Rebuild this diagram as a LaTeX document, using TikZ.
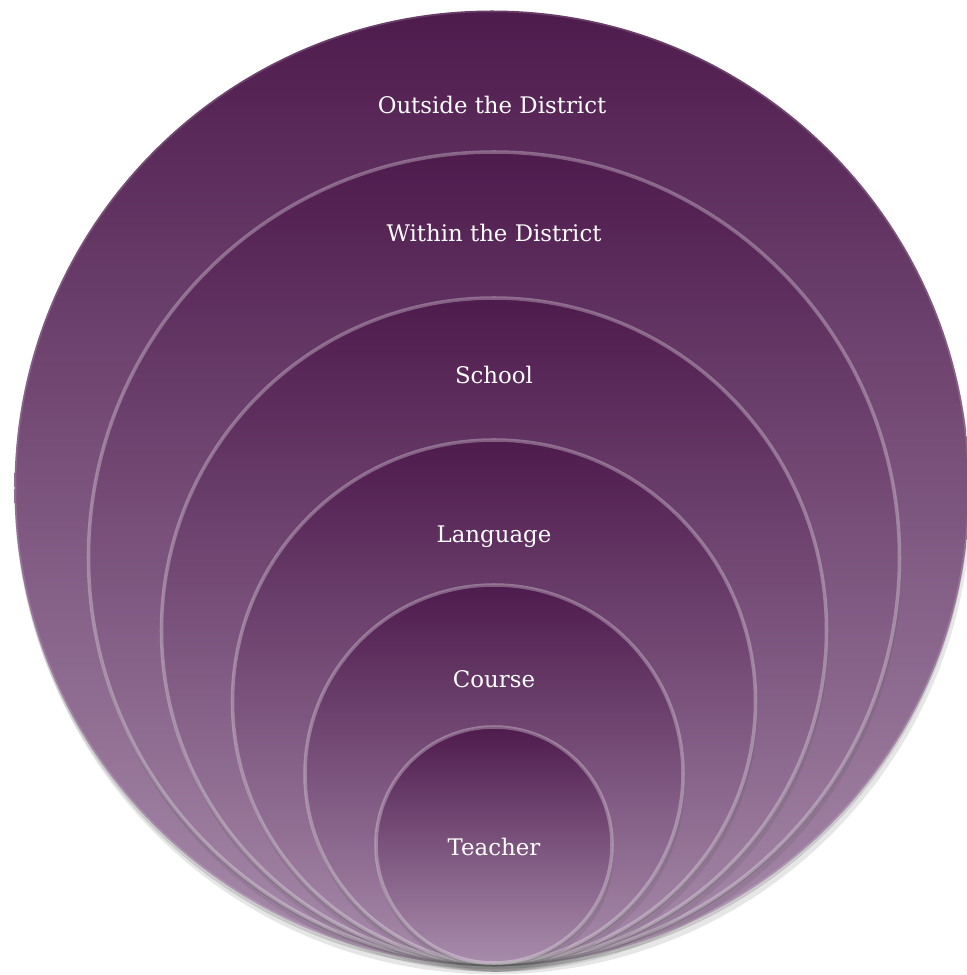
\documentclass[tikz,border=0pt]{standalone}
\usepackage{xcolor}
\usepackage{fontspec}
\setmainfont{DejaVu Serif}
\usepackage{tikz}
\usetikzlibrary{shapes,positioning,shadows}
\definecolor{plumtop}{HTML}{4E1B4D}
\definecolor{plumbottom}{HTML}{A88CAC}
\tikzstyle{ring} = [circle, inner sep=0pt, top color=plumtop, bottom color=plumbottom, draw=white, draw opacity=0.3, line width=2pt, drop shadow={shadow xshift=0pt, shadow yshift=-2pt, opacity=0.22, fill=black!70}, drop shadow={shadow xshift=1pt, shadow yshift=-5pt, opacity=0.14, fill=black!70}]
\tikzstyle{ringlabel} = [inner sep=0pt, text=white, font=\fontsize{13}{15}\selectfont]

\begin{document}
\begin{tikzpicture}
					\useasboundingbox (0,0) rectangle (19.34,19.5);
					% rings, outermost first
					\node (outside) [ring, draw opacity=0.15, minimum size=19.1cm] at (9.84,9.74) {};
					\node (within) [ring, minimum size=16.22cm] at (9.88,8.35) {};
					\node (school) [ring, minimum size=13.3cm] at (9.88,6.89) {};
					\node (language) [ring, minimum size=10.46cm] at (9.88,5.47) {};
					\node (course) [ring, minimum size=7.56cm] at (9.88,4.02) {};
					\node (teacher) [ring, minimum size=4.72cm] at (9.88,2.60) {};
					% labels
					\node (outside-l) [ringlabel, below=1.74cm of outside.north] {Outside the District};
					\node (within-l) [ringlabel, below=1.48cm of within.north] {Within the District};
					\node (school-l) [ringlabel, below=1.40cm of school.north] {School};
					\node (language-l) [ringlabel, below=1.74cm of language.north] {Language};
					\node (course-l) [ringlabel, below=1.74cm of course.north] {Course};
					\node (teacher-l) [ringlabel, below=2.26cm of teacher.north] {Teacher};
\end{tikzpicture}
\end{document}
